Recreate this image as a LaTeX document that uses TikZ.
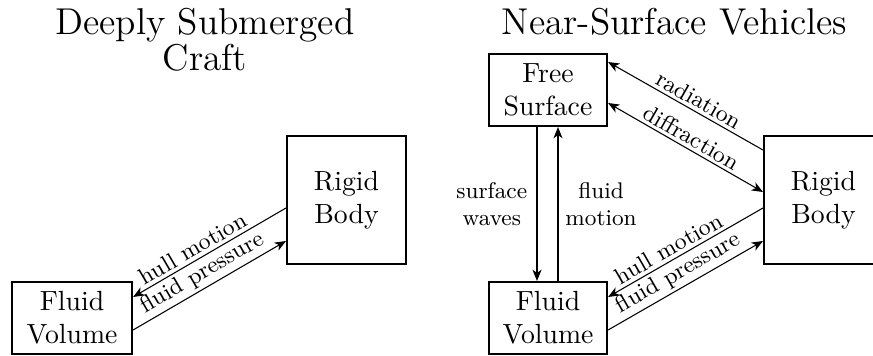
\documentclass[tikz,border=0pt]{standalone}
\usetikzlibrary{arrows.meta,calc}
\begin{document}
\begin{tikzpicture}[x=0.375pt,y=-0.375pt,
  >={Stealth[length=4.2pt,width=3.4pt,inset=1.2pt]},
  box/.style={draw, line width=0.8pt, align=center, inner sep=0pt, font=\fontsize{10.4}{12.4}\selectfont},
  conn/.style={line width=0.4pt},
  lab/.style={font=\fontsize{8.7}{10}\selectfont, inner sep=1.2pt, sloped},
  vlab/.style={font=\fontsize{8.5}{10}\selectfont, align=center},
  title/.style={align=center, font=\fontsize{14}{13.5}\selectfont, inner sep=0pt}]
\useasboundingbox (0,0) rectangle (873,356);
\node[title, anchor=north] (t1) at (205,8) {Deeply Submerged\\Craft};
\node[title, anchor=north] (t2) at (674.5,8) {Near-Surface Vehicles};
\node[box, minimum width=44.6pt, minimum height=48pt] (rb1) at (346.5,200) {Rigid\\Body};
\node[box, minimum width=45pt, minimum height=27pt] (fv1) at (72,318) {Fluid\\Volume};
\node[box, minimum width=44.25pt, minimum height=27pt] (fs) at (548,90) {Free\\Surface};
\node[box, minimum width=44.6pt, minimum height=48pt] (rb2) at (823.5,200) {Rigid\\Body};
\node[box, minimum width=44.25pt, minimum height=27pt] (fv2) at (548,318) {Fluid\\Volume};
% left diagram
\draw[conn,->] ($(rb1.west)+(0,8)$) -- node[lab,above,pos=0.57]{hull motion} ($(fv1.east)+(0,-21)$);
\draw[conn,->] ($(fv1.east)+(0,12)$) -- node[lab,above]{fluid pressure} ($(rb1.west)+(0,41)$);
% right diagram
\draw[conn,->] ($(rb2.west)+(0,-50)$) -- node[lab,above,pos=0.45]{radiation} ($(fs.east)+(0,-28)$);
\draw[conn,<->] ($(fs.east)+(0,13)$) -- node[lab,above]{diffraction} ($(rb2.west)+(0,-8)$);
\draw[conn,->] ($(rb2.west)+(0,8)$) -- node[lab,above,pos=0.57]{hull motion} ($(fv2.east)+(0,-21)$);
\draw[conn,->] ($(fv2.east)+(0,12)$) -- node[lab,above]{fluid pressure} ($(rb2.west)+(0,41)$);
\draw[conn,->] ($(fs.south)+(-11,0)$) -- node[vlab,left,inner sep=3.5pt]{surface\\waves} ($(fv2.north)+(-11,0)$);
\draw[conn,->] ($(fv2.north)+(10,0)$) -- node[vlab,right,inner sep=2.6pt]{fluid\\motion} ($(fs.south)+(10,0)$);
\end{tikzpicture}
\end{document}
